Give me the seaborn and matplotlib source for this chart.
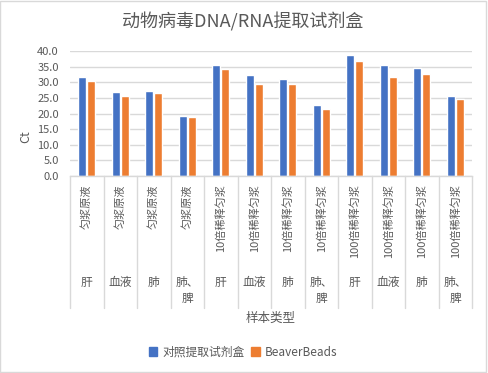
import matplotlib
matplotlib.use("Agg")
import matplotlib.pyplot as plt
import numpy as np
import pandas as pd
import seaborn as sns
from matplotlib.patches import Rectangle

# ---- data ----
inner_labels = ["匀浆原液", "匀浆原液", "匀浆原液", "匀浆原液",
                "10倍稀释匀浆", "10倍稀释匀浆", "10倍稀释匀浆", "10倍稀释匀浆",
                "100倍稀释匀浆", "100倍稀释匀浆", "100倍稀释匀浆", "100倍稀释匀浆"]
outer_labels = ["肝", "血液", "肺", "肺、\n脾"] * 3
control_kit = [31.7, 26.9, 27.2, 19.2, 35.5, 32.3, 31.0, 22.7, 38.7, 35.5, 34.6, 25.6]
beaver_beads = [30.4, 25.6, 26.6, 18.9, 34.2, 29.4, 29.4, 21.4, 36.8, 31.7, 32.6, 24.6]
series_names = ["对照提取试剂盒", "BeaverBeads"]
colors = ["#4472C4", "#ED7D31"]

# ---- style ----
sns.set_style("white")
plt.rcParams["font.family"] = ["Noto Sans CJK SC", "DejaVu Sans"]
grey = "#595959"

n = len(inner_labels)
df = pd.DataFrame({
    "pos": list(range(n)) * 2,
    "Ct": control_kit + beaver_beads,
    "series": [series_names[0]] * n + [series_names[1]] * n,
})

fig = plt.figure(figsize=(4.88, 3.73), dpi=100)
ax = fig.add_axes([70 / 488, 1 - 176 / 373, 402 / 488, 125 / 373])

sns.barplot(data=df, x="pos", y="Ct", hue="series", palette=colors,
            width=0.55, gap=0.15, saturation=1, ax=ax, legend=False)

ax.set_xlim(-0.5, n - 0.5)
ax.set_ylim(0, 40)
ax.set_yticks(np.arange(0, 41, 5))
ax.set_yticklabels([f"{v:.1f}" for v in np.arange(0, 41, 5)], color=grey, fontsize=8)
ax.tick_params(axis="y", length=0, pad=8)
ax.yaxis.grid(True, color="#D9D9D9", linewidth=1)
ax.set_axisbelow(True)
for s in ["top", "right", "left"]:
    ax.spines[s].set_visible(False)
ax.spines["bottom"].set_color("#D9D9D9")
ax.spines["bottom"].set_linewidth(1)

ax.set_xticks([])
ax.set_xlabel("")
ax.set_ylabel("")

# two-level category axis
trans = ax.get_xaxis_transform()
depth = (308 - 176) / 125
for k in range(n + 1):
    ax.plot([k - 0.5, k - 0.5], [0, -depth], transform=trans, color="#D9D9D9",
            linewidth=1, clip_on=False)
for k in range(n):
    ax.text(k, -0.065, inner_labels[k], transform=trans, rotation=90,
            ha="center", va="top", fontsize=8, color=grey)
    ax.text(k, -0.8, outer_labels[k], transform=trans, ha="center", va="top",
            fontsize=8.5, color=grey, linespacing=1.3,
            multialignment="center")

# titles
fig.text(243 / 488, 1 - 22 / 373, "动物病毒DNA/RNA提取试剂盒", ha="center", va="center",
         fontsize=13, color=grey)
fig.text(271 / 488, 1 - 318 / 373, "样本类型", ha="center", va="center",
         fontsize=9, color=grey)
fig.text(26 / 488, 1 - 137 / 373, "Ct", ha="center", va="center", rotation=90,
         fontsize=9, color=grey)

# legend
handles = [Rectangle((0, 0), 1, 1, color=c) for c in colors]
fig.legend(handles, series_names, loc="center", bbox_to_anchor=(243 / 488, 1 - 352 / 373),
           ncol=2, frameon=False, fontsize=8.5, handlelength=0.7, handleheight=0.7,
           handletextpad=0.4, columnspacing=0.6, labelcolor=grey)

# chart border
fig.patches.append(Rectangle((0.001, 0.002), 0.994, 0.995, transform=fig.transFigure,
                             fill=False, edgecolor="#D9D9D9", linewidth=1))

fig.savefig("out.png", dpi=100)
